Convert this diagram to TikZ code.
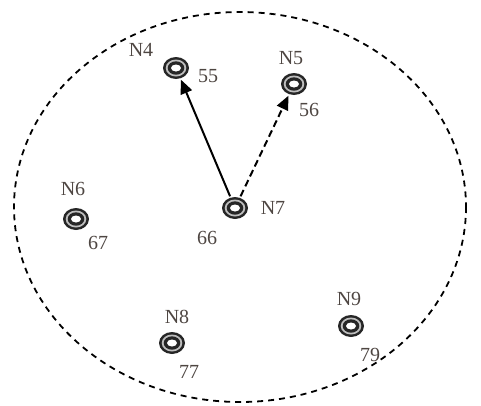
\documentclass[tikz,border=0pt]{standalone}
\usepackage{fontspec}
\setmainfont{Liberation Serif}
\usetikzlibrary{arrows.meta}
\definecolor{txt}{RGB}{78,70,66}
\tikzset{
  site/.style={inner sep=0pt, minimum width=27pt, minimum height=23pt,
    path picture={
      \fill[black!85] (path picture bounding box.center) ellipse[x radius=13pt, y radius=11pt];
      \fill[gray!50] (path picture bounding box.center) ellipse[x radius=10.3pt, y radius=8.5pt];
      \fill[black!85] (path picture bounding box.center) ellipse[x radius=8.3pt, y radius=6.7pt];
      \fill[white] (path picture bounding box.center) ellipse[x radius=5pt, y radius=3.5pt];
    }},
  lbl/.style={text=txt, font=\fontsize{20}{22}\selectfont, inner sep=0pt},
  link/.style={line width=2pt, -{Triangle[length=14pt,width=12pt]}, shorten >=0pt},
}
\begin{document}
\begin{tikzpicture}[x=1pt,y=-1pt]
\useasboundingbox (0,0) rectangle (481,405);
% coverage boundary
\draw[line width=1.8pt, dash pattern=on 6pt off 5pt] (240,207) ellipse[x radius=226, y radius=195];
% sites
\node[site] (n4) at (176,68) {};
\node[site] (n5) at (294,84) {};
\node[site] (n6) at (76,219) {};
\node[site] (n7) at (235,208) {};
\node[site] (n8) at (172,343) {};
\node[site] (n9) at (351,326) {};
% names
\node[lbl] (t4) at (141,50) {N4};
\node[lbl] (t5) at (291,58) {N5};
\node[lbl] (t6) at (73,189) {N6};
\node[lbl] (t7) at (273,208) {N7};
\node[lbl] (t8) at (177,317) {N8};
\node[lbl] (t9) at (349,299) {N9};
% values
\node[lbl] (v4) at (208,76) {55};
\node[lbl] (v5) at (309,110) {56};
\node[lbl] (v6) at (98,243) {67};
\node[lbl] (v7) at (207,238) {66};
\node[lbl] (v8) at (189,372) {77};
\node[lbl] (v9) at (370,355) {79};
% links
\draw[link] (n7) -- (n4);
\draw[link, dash pattern=on 7pt off 4pt] (n7) -- (n5);
\end{tikzpicture}
\end{document}
